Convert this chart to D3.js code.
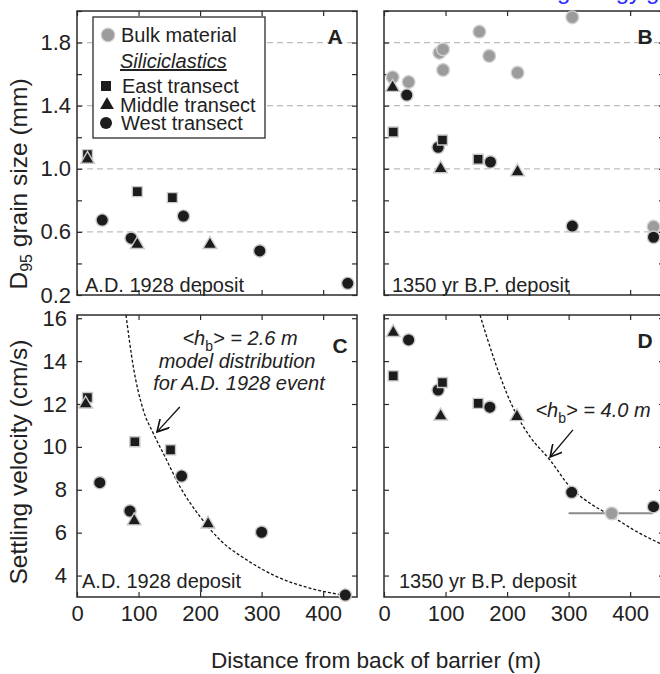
<!DOCTYPE html>
<html>
<head>
<meta charset="utf-8">
<script src="https://cdn.jsdelivr.net/npm/d3@7"></script>
<style>
  body { margin: 0; background: #fff; }
  svg text { font-family: "Liberation Sans", Arial, Helvetica, sans-serif; fill: #222; }
</style>
</head>
<body>
<div id="chart"></div>
<script>
// D95 grain size (mm), panels A and B: [distance m, value]
const aEast   = [[17, 1.09], [98, 0.855], [155, 0.817]];
const aMiddle = [[17, 1.06], [98, 0.52], [216, 0.52]];
const aWest   = [[41, 0.675], [88, 0.56], [173, 0.70], [297, 0.479], [440, 0.274]];

const bBulk   = [[14, 1.58], [40, 1.55], [90, 1.735], [96, 1.757], [96, 1.626], [155, 1.869],
                 [171, 1.715], [217, 1.609], [306, 1.96], [438, 0.633]];
const bEast   = [[15, 1.233], [95, 1.182], [153, 1.06]];
const bMiddle = [[14, 1.516], [92, 1.0], [217, 0.98]];
const bWest   = [[37, 1.467], [88, 1.136], [173, 1.043], [306, 0.637], [438, 0.566]];

// Settling velocity (cm/s), panels C and D
const cEast   = [[17, 12.3], [94, 10.24], [152, 9.86]];
const cMiddle = [[14, 12.0], [93, 6.55], [213, 6.4]];
const cWest   = [[37, 8.33], [86, 7.01], [170, 8.64], [300, 6.02], [436, 3.09]];

const dBulk   = [[370, 6.9]];
const dBulkRange = [300, 437];
const dEast   = [[15, 13.31], [95, 13.0], [153, 12.03]];
const dMiddle = [[15, 15.33], [92, 11.44], [216, 11.41]];
const dWest   = [[40, 14.99], [88, 12.65], [172, 11.85], [305, 7.88], [438, 7.21]];

// model distributions
const modelC = [[79.6, 16.15], [91.5, 13.74], [107.7, 11.72], [124, 10.63], [143, 9.54], [167.4, 8.14],
                [199.9, 6.75], [232.4, 5.66], [275.8, 4.73], [324.5, 3.95], [378.6, 3.41], [432.7, 3.09]];
const modelD = [[156, 16.15], [166.9, 15.14], [183.1, 13.74], [199.4, 12.5], [215.6, 11.49], [237.2, 10.48],
                [269.7, 9.39], [302.2, 8.14], [334.7, 7.37], [367.2, 6.82], [410.6, 6.05], [448.3, 5.5]];

const xTicks = [0, 100, 200, 300, 400];
const grainTicks = [0.2, 0.4, 0.6, 0.8, 1.0, 1.2, 1.4, 1.6, 1.8, 2.0];
const grainLabels = [0.2, 0.6, 1.0, 1.4, 1.8];
const grainGrid = [0.6, 1.0, 1.4, 1.8];
const velTicks = [4, 6, 8, 10, 12, 14, 16];

const W = 660, H = 674;
const black = "#1c1c1c", edge = "#c9c9c9", bulkFill = "#9c9c9c", axisCol = "#2b2b2b";

const svg = d3.select("#chart").append("svg")
    .attr("width", W).attr("height", H);

// blue link text cut off at the top of the page
svg.append("text").attr("x", 557).attr("y", -1)
    .style("font-size", "24px").style("fill", "#2a2aff")
    .text("geology.gsapubs.org");

const panels = [
    { id: "A", left: 77,  top: 11,  w: 280, h: 284, yDom: [0.2, 2.0], ticks: grainTicks, labels: grainLabels, grid: grainGrid,
      bulk: [], east: aEast, middle: aMiddle, west: aWest, tag: "A.D. 1928 deposit", tagX: 8, tagY: 281, letterX: 258, letterY: 33 },
    { id: "B", left: 384, top: 11,  w: 280, h: 284, yDom: [0.2, 2.0], ticks: grainTicks, labels: null, grid: grainGrid,
      bulk: bBulk, east: bEast, middle: bMiddle, west: bWest, tag: "1350 yr B.P. deposit", tagX: 8, tagY: 281, letterX: 261, letterY: 33 },
    { id: "C", left: 77,  top: 315, w: 280, h: 282, yDom: [3, 16.15], ticks: velTicks, labels: velTicks, grid: [],
      bulk: [], east: cEast, middle: cMiddle, west: cWest, tag: "A.D. 1928 deposit", tagX: 5, tagY: 273, letterX: 263, letterY: 38, model: modelC },
    { id: "D", left: 384, top: 315, w: 280, h: 282, yDom: [3, 16.15], ticks: velTicks, labels: null, grid: [],
      bulk: dBulk, east: dEast, middle: dMiddle, west: dWest, tag: "1350 yr B.P. deposit", tagX: 15, tagY: 273, letterX: 261, letterY: 33, model: modelD }
];

const triangle = d3.symbol().type(d3.symbolTriangle).size(82);
const square = d3.symbol().type(d3.symbolSquare).size(100);

panels.forEach(p => {
    const x = d3.scaleLinear().domain([0, 455]).range([0, p.w]);
    const y = d3.scaleLinear().domain(p.yDom).range([p.h, 0]);
    p.x = x; p.y = y;

    const g = svg.append("g").attr("transform", `translate(${p.left},${p.top})`);
    p.g = g;

    g.append("clipPath").attr("id", "clip" + p.id)
        .append("rect").attr("width", p.w).attr("height", p.h);

    // dashed grid
    g.selectAll(".grid").data(p.grid).join("line")
        .attr("x1", 0).attr("x2", p.w)
        .attr("y1", d => y(d)).attr("y2", d => y(d))
        .attr("stroke", "#bdbdbd").attr("stroke-width", 1.2)
        .attr("stroke-dasharray", "6,4");

    // axes with inward ticks on all four sides
    const fmt = d => (p.labels && p.labels.some(v => Math.abs(v - d) < 1e-6)) ? (p.id === "A" ? d.toFixed(1) : d) : "";
    const styleAxis = a => {
        a.select(".domain").remove();
        a.selectAll("line").attr("stroke", axisCol).attr("stroke-width", 1.2);
        a.selectAll("text").style("font-size", "22px").style("fill", "#222")
            .attr("font-family", null);
    };
    g.append("g").call(d3.axisLeft(y).tickValues(p.ticks).tickSize(-5).tickPadding(p.id === "A" ? 6 : 10).tickFormat(fmt)).call(styleAxis);
    g.append("g").attr("transform", `translate(${p.w},0)`)
        .call(d3.axisRight(y).tickValues(p.ticks).tickSize(-5).tickFormat("")).call(styleAxis);
    g.append("g").call(d3.axisTop(x).tickValues(xTicks).tickSize(-5).tickFormat("")).call(styleAxis);
    g.append("g").attr("transform", `translate(0,${p.h})`)
        .call(d3.axisBottom(x).tickValues(xTicks).tickSize(-5)
            .tickPadding(8).tickFormat(p.top > 100 ? d3.format("d") : ""))
        .call(styleAxis);

    g.append("rect").attr("width", p.w).attr("height", p.h)
        .attr("fill", "none").attr("stroke", axisCol).attr("stroke-width", 1.5);

    // model curve
    if (p.model) {
        g.append("path").datum(p.model)
            .attr("clip-path", `url(#clip${p.id})`)
            .attr("fill", "none").attr("stroke", "#111").attr("stroke-width", 1.3)
            .attr("stroke-dasharray", "3,2")
            .attr("d", d3.line().x(d => x(d[0])).y(d => y(d[1])).curve(d3.curveMonotoneX));
    }

    // bulk error bar (panel D)
    if (p.id === "D") {
        g.append("line")
            .attr("x1", x(dBulkRange[0])).attr("x2", x(dBulkRange[1]))
            .attr("y1", y(dBulk[0][1])).attr("y2", y(dBulk[0][1]))
            .attr("stroke", "#8a8a8a").attr("stroke-width", 2);
    }

    // markers
    g.selectAll(".bulk").data(p.bulk).join("circle")
        .attr("cx", d => x(d[0])).attr("cy", d => y(d[1])).attr("r", 6.4)
        .attr("fill", bulkFill).attr("stroke", "#d2d2d2").attr("stroke-width", 1.4);
    g.selectAll(".west").data(p.west).join("circle")
        .attr("cx", d => x(d[0])).attr("cy", d => y(d[1])).attr("r", 6.2)
        .attr("fill", black).attr("stroke", edge).attr("stroke-width", 1.4);
    g.selectAll(".east").data(p.east).join("path")
        .attr("transform", d => `translate(${x(d[0])},${y(d[1])})`)
        .attr("d", square)
        .attr("fill", black).attr("stroke", edge).attr("stroke-width", 1.4);
    g.selectAll(".middle").data(p.middle).join("path")
        .attr("transform", d => `translate(${x(d[0])},${y(d[1])})`)
        .attr("d", triangle)
        .attr("fill", black).attr("stroke", edge).attr("stroke-width", 1.4);

    // deposit tag and panel letter
    g.append("text").attr("x", p.tagX).attr("y", p.tagY)
        .style("font-size", "20px").text(p.tag);
    g.append("text").attr("x", p.letterX).attr("y", p.letterY)
        .attr("text-anchor", "middle")
        .style("font-size", "21px").style("font-weight", "bold").text(p.id);
});

// annotations with arrows
svg.append("defs").append("marker").attr("id", "arrow")
    .attr("viewBox", "0 0 10 10").attr("refX", 9).attr("refY", 5)
    .attr("markerWidth", 10).attr("markerHeight", 10).attr("orient", "auto")
    .append("path").attr("d", "M0,0 L9,5 L0,10").attr("fill", "none")
    .attr("stroke", "#111").attr("stroke-width", 1.3);

function hbLabel(g, cx, cy, value) {
    const t = g.append("text").attr("x", cx).attr("y", cy).attr("text-anchor", "middle")
        .style("font-size", "20px").style("font-style", "italic");
    t.append("tspan").text("<h");
    t.append("tspan").attr("dy", 6).style("font-size", "14px").style("font-style", "normal").text("b");
    t.append("tspan").attr("dy", -6).text(`> = ${value} m`);
}

const pC = panels[2], pD = panels[3];
hbLabel(pC.g, 163, 30, "2.6");
pC.g.append("text").attr("x", 160).attr("y", 53).attr("text-anchor", "middle")
    .style("font-size", "20px").style("font-style", "italic").text("model distribution");
pC.g.append("text").attr("x", 162).attr("y", 75).attr("text-anchor", "middle")
    .style("font-size", "20px").style("font-style", "italic").text("for A.D. 1928 event");
pC.g.append("line")
    .attr("x1", pC.x(167)).attr("y1", pC.y(11.86)).attr("x2", pC.x(130)).attr("y2", pC.y(10.7))
    .attr("stroke", "#111").attr("stroke-width", 1.3).attr("marker-end", "url(#arrow)");

hbLabel(pD.g, 209, 102, "4.0");
pD.g.append("line")
    .attr("x1", pD.x(307)).attr("y1", pD.y(10.79)).attr("x2", pD.x(270)).attr("y2", pD.y(9.53))
    .attr("stroke", "#111").attr("stroke-width", 1.3).attr("marker-end", "url(#arrow)");

// legend in panel A
const pA = panels[0];
const lg = pA.g.append("g").attr("transform", "translate(16,6)");
lg.append("rect").attr("width", 172).attr("height", 121)
    .attr("fill", "#fff").attr("stroke", axisCol).attr("stroke-width", 1.3);
lg.append("circle").attr("cx", 15).attr("cy", 18).attr("r", 6.8)
    .attr("fill", bulkFill).attr("stroke", "#d2d2d2").attr("stroke-width", 1.2);
lg.append("text").attr("x", 28).attr("y", 25).style("font-size", "20px").text("Bulk material");
lg.append("text").attr("x", 27).attr("y", 51).style("font-size", "20px")
    .style("font-style", "italic").style("text-decoration", "underline").text("Siliciclastics");
lg.append("path").attr("transform", "translate(13,69)").attr("d", square).attr("fill", black);
lg.append("text").attr("x", 29).attr("y", 76).style("font-size", "20px").text("East transect");
lg.append("path").attr("transform", "translate(14,88)").attr("d", triangle).attr("fill", black);
lg.append("text").attr("x", 27).attr("y", 95).style("font-size", "20px").text("Middle transect");
lg.append("circle").attr("cx", 13).attr("cy", 106).attr("r", 6).attr("fill", black);
lg.append("text").attr("x", 28).attr("y", 113).style("font-size", "20px").text("West transect");

// axis titles
const yTitle = (cx, cy, parts) => {
    const t = svg.append("text").attr("transform", `translate(${cx},${cy}) rotate(-90)`)
        .attr("text-anchor", "middle").style("font-size", "24.5px");
    parts(t);
};
yTitle(27, 184, t => {
    t.append("tspan").text("D");
    t.append("tspan").attr("dy", 5).style("font-size", "16px").text("95");
    t.append("tspan").attr("dy", -5).text(" grain size (mm)");
});
yTitle(27, 462, t => t.text("Settling velocity (cm/s)"));

svg.append("text").attr("x", 376).attr("y", 668).attr("text-anchor", "middle")
    .style("font-size", "22.6px").text("Distance from back of barrier (m)");
</script>
</body>
</html>
